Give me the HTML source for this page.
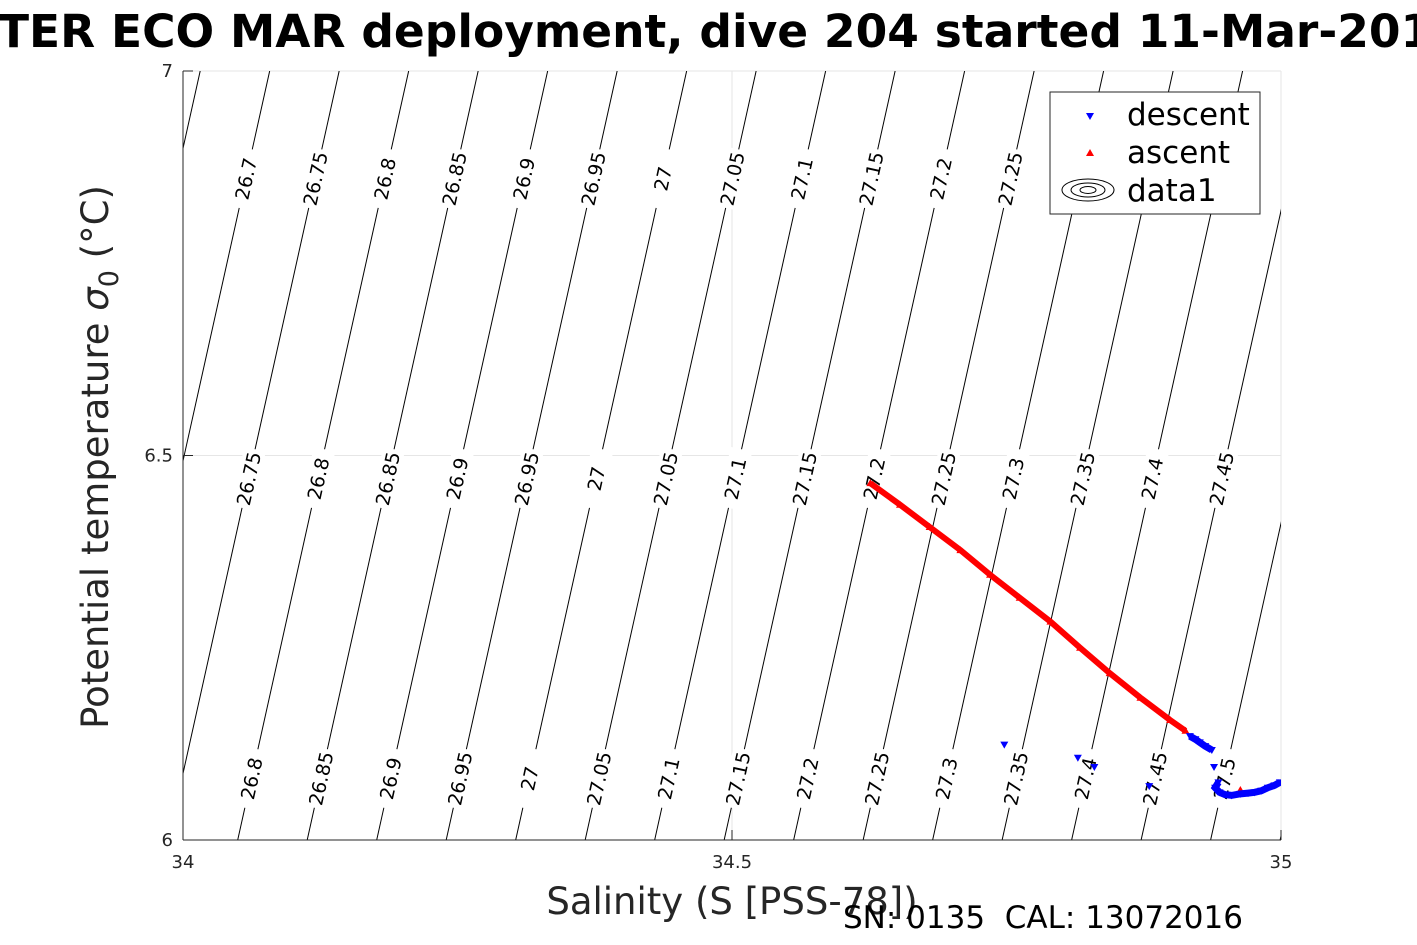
<!DOCTYPE html>
<html><head><meta charset="utf-8"><style>
body{margin:0;background:#fff;width:1417px;height:945px;overflow:hidden}
svg{display:block;font-family:"DejaVu Sans","Liberation Sans",sans-serif}
</style></head><body>
<svg id="chart" width="1417" height="945">
<text x="-2" y="47" font-size="45.5" font-weight="bold">TER ECO MAR deployment, dive 204 started 11-Mar-2017</text>
<g id="plot"></g>
</svg>
<script>
const xTicks=[34,34.5,35];
const yTicks=[6,6.5,7];
const xTickLabels=["34","34.5","35"];
const yTickLabels=["6","6.5","7"];
const contourLevels=[26.5,26.55,26.6,26.65,26.7,26.75,26.8,26.85,26.9,26.95,27,27.05,27.1,27.15,27.2,27.25,27.3,27.35,27.4,27.45,27.5,27.55,27.6,27.65,27.7];
const labelRowTemps=[6.86,6.47,6.08];
const ascentS=[34.626,34.653,34.680,34.708,34.735,34.762,34.790,34.817,34.844,34.872,34.899,34.913];
const ascentT=[6.464,6.436,6.407,6.377,6.345,6.315,6.284,6.250,6.217,6.185,6.156,6.142];
const ascentExtraS=[34.963];
const ascentExtraT=[6.065];
const descentS=[34.917,34.922,34.926,34.931,34.937,34.748,34.815,34.830,34.880,34.939,34.943,34.940,34.944,34.949,34.955,34.963,34.970,34.976,34.982,34.988,34.994,34.999];
const descentT=[6.135,6.131,6.127,6.122,6.117,6.124,6.107,6.095,6.070,6.095,6.075,6.068,6.062,6.059,6.058,6.060,6.061,6.062,6.064,6.068,6.071,6.075];

const X0=183,X1=1281,Y0=840,Y1=71;
const sx=s=>X0+(s-34)/(35-34)*(X1-X0);
const sy=t=>Y0-(t-6)/(7-6)*(Y0-Y1);
const sOf=(g,t)=>34.123+(g-26.8+0.123*(t-6.47))/0.79;
const NS="http://www.w3.org/2000/svg";
const plot=document.getElementById('plot');
function mk(tag,attrs,parent){const e=document.createElementNS(NS,tag);for(const k in attrs)e.setAttribute(k,attrs[k]);(parent||plot).appendChild(e);return e;}

const defs=mk('defs',{});
const cp=mk('clipPath',{id:'clip'},defs);
mk('rect',{x:X0,y:Y1,width:X1-X0,height:Y0-Y1},cp);

const grid=mk('g',{});


mk('line',{x1:sx(34.5),x2:sx(34.5),y1:Y1,y2:Y0,stroke:'#e6e6e6','stroke-width':1},grid);
mk('line',{x1:X0,x2:X1,y1:sy(6.5),y2:sy(6.5),stroke:'#e6e6e6','stroke-width':1},grid);
mk('line',{x1:X0,x2:X1,y1:Y1,y2:Y1,stroke:'#e6e6e6','stroke-width':1},grid);
mk('line',{x1:X1,x2:X1,y1:Y1,y2:Y0,stroke:'#e6e6e6','stroke-width':1},grid);

const cg=mk('g',{'clip-path':'url(#clip)'});


const ang=Math.atan2(sy(7)-sy(6),sx(sOf(27,7))-sx(sOf(27,6)))*180/Math.PI;
contourLevels.forEach(g=>{
  const l=mk('line',{x1:sx(sOf(g,6)),y1:sy(6),x2:sx(sOf(g,7)),y2:sy(7),stroke:'#000','stroke-width':1},cg);
  
  
  labelRowTemps.forEach(t=>{
    const x=sx(sOf(g,t)),y=sy(t);
    if(x<X0+15||x>X1-15)return;
    const gg=mk('g',{transform:`translate(${x},${y}) rotate(${ang})`},cg);
    mk('rect',{x:-30,y:-11,width:60,height:22,fill:'#fff'},gg);
    const tx=mk('text',{x:0,y:7,'font-size':19,'text-anchor':'middle',fill:'#000'},gg);
    tx.textContent=String(g);
    
    
  });
});

const ax=mk('g',{});


mk('line',{x1:X0,x2:X0,y1:Y1,y2:Y0,stroke:'#262626'},ax);
mk('line',{x1:X0,x2:X1,y1:Y0,y2:Y0,stroke:'#262626'},ax);
xTicks.forEach((v,i)=>{
  mk('line',{x1:sx(v),x2:sx(v),y1:Y0,y2:Y0-10,stroke:'#262626'},ax);
  const t=mk('text',{x:sx(v),y:868,'font-size':18,'text-anchor':'middle',fill:'#262626'},ax);
  t.textContent=xTickLabels[i];
  
  
});
yTicks.forEach((v,i)=>{
  mk('line',{x1:X0,x2:X0+10,y1:sy(v),y2:sy(v),stroke:'#262626'},ax);
  const t=mk('text',{x:173,y:sy(v)+6,'font-size':18,'text-anchor':'end',fill:'#262626'},ax);
  t.textContent=yTickLabels[i];
  
  
});

function tri(x,y,up,color,parent,name){
  const p=up?`${x-4},${y+3} ${x+4},${y+3} ${x},${y-4}`:`${x-4},${y-3} ${x+4},${y-3} ${x},${y+4}`;
  const e=mk('polygon',{points:p,fill:color},parent);
  
  
}
const ag=mk('g',{'clip-path':'url(#clip)'});


const apts=ascentS.map((s,i)=>sx(s)+','+sy(ascentT[i])).join(' ');
mk('polyline',{points:apts,fill:'none',stroke:'#f00','stroke-width':6},ag);
ascentS.forEach((s,i)=>tri(sx(s),sy(ascentT[i]),true,'#f00',ag,'ascent-point'));
const dg=mk('g',{'clip-path':'url(#clip)'});


[[0,5],[10,22]].forEach(([a,b])=>{
  const pts=descentS.slice(a,b).map((s,i)=>sx(s)+','+sy(descentT[a+i])).join(' ');
  mk('polyline',{points:pts,fill:'none',stroke:'#00f','stroke-width':7},dg);
});
descentS.forEach((s,i)=>tri(sx(s),sy(descentT[i]),false,'#00f',dg,'descent-point'));
ascentExtraS.forEach((s,i)=>tri(sx(s),sy(ascentExtraT[i]),true,'#f00',ag,'ascent-point'));

const lg=mk('g',{});


mk('rect',{x:1050,y:92,width:210,height:122,fill:'#fff',stroke:'#262626'},lg);
tri(1090,116,false,'#00f',lg,'legend-descent-marker');
tri(1090,153,true,'#f00',lg,'legend-ascent-marker');
[[26,11],[17,7],[8,3.5]].forEach(([rx,ry])=>mk('ellipse',{cx:1088,cy:190,rx,ry,fill:'none',stroke:'#000'},lg));
[['descent',125],['ascent',163],['data1',201]].forEach(([s,y])=>{
  const t=mk('text',{x:1127,y,'font-size':31,fill:'#000'},lg);
  t.textContent=s;
  
  
});

const xl=mk('text',{x:732,y:914,'font-size':37,'text-anchor':'middle',fill:'#262626'});
xl.textContent='Salinity (S [PSS-78])';


const yl=mk('text',{x:0,y:0,'font-size':37,'text-anchor':'middle',fill:'#262626',transform:'translate(108,457) rotate(-90)'});
yl.innerHTML='Potential temperature <tspan font-style="italic">σ</tspan><tspan font-size="27" dy="10">0</tspan><tspan dy="-10"> (°C)</tspan>';


const sn=mk('text',{x:843,y:928,'font-size':31,fill:'#000',style:'white-space:pre'});
sn.textContent='SN: 0135  CAL: 13072016';


</script>
</body></html>
